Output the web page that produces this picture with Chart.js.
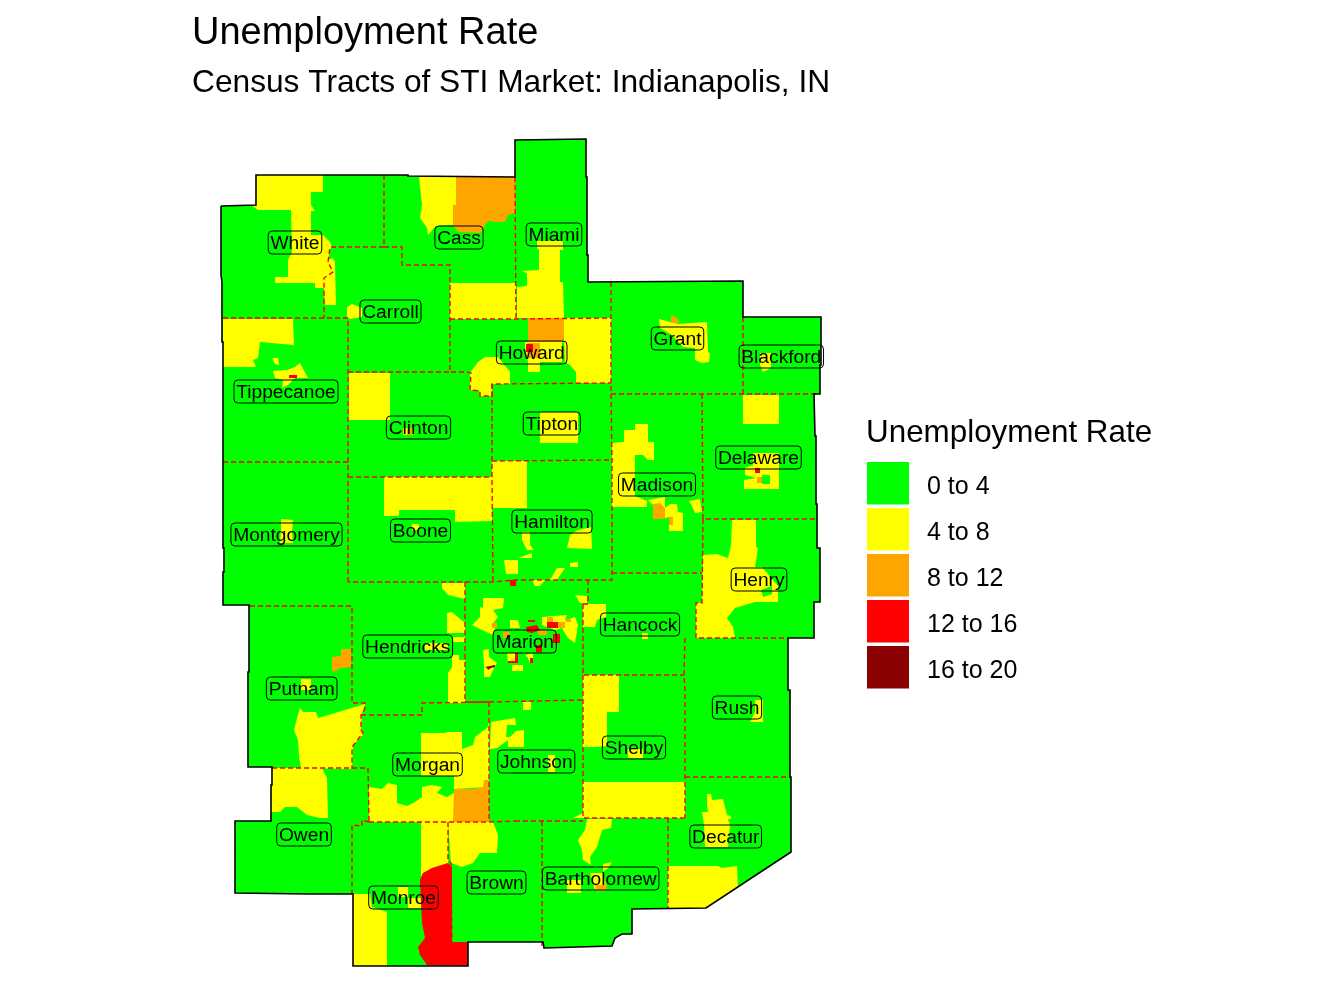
<!DOCTYPE html>
<html lang="en">
<head>
  <meta charset="UTF-8">
  <title>Unemployment Rate</title>
  <script src="https://cdn.jsdelivr.net/npm/chart.js"></script>
  <style>
    body { margin: 0; background: #fff; }
    canvas { display: block; }
  </style>
</head>
<body>
  <canvas id="mapChart" width="1344" height="1008"></canvas>
  <script>
    const classLabels = ["0 to 4", "4 to 8", "8 to 12", "12 to 16", "16 to 20"];
    const classColors = ["#00ff00", "#ffff00", "#ffa500", "#ff0000", "#8b0000"];

    const countyNames = ["White", "Cass", "Miami", "Carroll", "Howard", "Grant", "Blackford", "Tippecanoe", "Clinton", "Tipton", "Delaware", "Madison", "Montgomery", "Boone", "Hamilton", "Henry", "Hancock", "Marion", "Hendricks", "Putnam", "Rush", "Morgan", "Johnson", "Shelby", "Owen", "Decatur", "Monroe", "Brown", "Bartholomew"];
    const countyX = [295, 459, 554, 390.5, 531.7, 677.5, 781.3, 286, 418.5, 551.8, 758.5, 657, 286.5, 420.5, 552, 759, 640, 524.7, 407.7, 301.7, 737, 427.5, 536.3, 634, 304, 725.7, 403.5, 496.5, 600.7];
    const countyY = [242, 237, 234, 311, 352, 338, 356, 391, 427, 423, 457, 484, 534, 530, 521, 579, 624, 641, 646, 688, 707, 764, 761, 747, 834, 836, 897, 882, 878];

    // outer edge of the market, projected map units
    const outline = [[221,206],[256,205],[256,175],[408,175],[408,176],[515,177],[515,140],[586,139],[586,177],[587,177],[587,255],[588,255],[588,282],[743,281],[743,317],[821,317],[821,365],[820,365],[820,394],[814,394],[815,436],[816,436],[816,504],[817,504],[817,548],[820,548],[820,602],[814,602],[814,638],[788,638],[788,690],[790,690],[790,777],[791,777],[791,852],[706,908],[632,909],[632,934],[622,934],[615,938],[612,946],[544,948],[543,942],[468,942],[468,966],[353,966],[353,935],[353,894],[308,894],[235,893],[235,821],[271,821],[271,785],[272,785],[272,767],[248,767],[248,672],[249,672],[249,605],[223,605],[223,572],[224,572],[224,548],[223,548],[223,342],[222,342],[222,282],[221,275],[221,206]];

    const countyLines = [
      [[384,175],[384,247],[330,247],[328,262],[333,272],[324,278],[324,318]],
      [[384,247],[402,247],[402,265],[450,265],[450,372],[467,372],[471,373],[470,390],[480,391],[480,396],[492,396],[492,384],[611,383]],
      [[223,318],[348,318],[348,582]],
      [[348,372],[450,372]],
      [[223,462],[348,462]],
      [[348,477],[492,477]],
      [[492,384],[492,477],[493,582]],
      [[492,461],[612,460]],
      [[611,282],[611,394],[612,460],[612,580],[515,580],[493,582],[348,582]],
      [[612,573],[702,573]],
      [[611,394],[743,394],[819,394]],
      [[743,317],[743,394]],
      [[702,394],[703,519],[816,519]],
      [[703,519],[702,603],[696,603],[696,638],[788,638]],
      [[685,638],[684,675],[685,690],[685,818]],
      [[583,604],[583,675],[684,675]],
      [[588,580],[588,604],[583,604]],
      [[583,675],[583,818],[685,818]],
      [[685,777],[790,777]],
      [[668,818],[668,908]],
      [[515,821],[583,821]],
      [[542,821],[542,947]],
      [[465,582],[465,702],[489,702],[583,700]],
      [[250,606],[352,606],[352,703],[365,703],[365,709],[361,715],[361,730],[363,733],[352,747],[352,769]],
      [[272,768],[368,768],[369,822]],
      [[361,715],[422,715],[422,703],[489,702]],
      [[489,702],[489,822]],
      [[369,822],[362,820],[362,826],[352,825],[352,894]],
      [[369,822],[489,822],[515,821]],
      [[448,822],[448,860],[451,863],[452,942]],
      [[450,319],[515,319],[611,318]],
      [[515,177],[516,319]]
    ];

    const tracts4to8 = [
      [[256,175],[323,175],[323,192],[311,192],[311,205],[315,211],[311,211],[311,235],[323,235],[330,242],[332,247],[330,250],[328,260],[333,258],[335,262],[336,305],[325,305],[324,288],[315,288],[315,283],[275,283],[275,277],[288,277],[288,260],[292,252],[291,210],[258,210],[252,206],[256,206]],
      [[347,307],[352,304],[362,308],[362,317],[350,319],[347,317]],
      [[419,177],[456,177],[456,205],[453,225],[436,226],[428,235],[427,228],[420,218],[422,205]],
      [[450,283],[516,283],[516,319],[450,319]],
      [[537,241],[563,241],[563,250],[560,250],[560,282],[563,282],[564,318],[517,318],[517,287],[527,286],[527,273],[521,271],[539,270],[539,250],[537,248]],
      [[564,318],[611,318],[611,383],[576,383],[576,372],[570,365],[565,362],[564,342]],
      [[470,373],[478,362],[485,357],[498,357],[510,372],[510,384],[492,384],[492,396],[480,396],[479,390],[470,390]],
      [[525,342],[562,342],[562,362],[540,362],[540,372],[528,372],[528,362],[525,350]],
      [[223,319],[293,319],[294,345],[260,342],[258,358],[253,360],[256,367],[223,367]],
      [[272,358],[278,358],[279,365],[275,364]],
      [[273,371],[287,370],[295,367],[300,363],[308,378],[295,378],[288,385],[282,388],[283,380],[275,378]],
      [[349,373],[390,373],[390,420],[349,420]],
      [[403,428],[413,428],[413,435],[403,435]],
      [[384,477],[492,477],[492,521],[455,522],[455,510],[399,510],[399,516],[384,516]],
      [[412,524],[419,524],[419,530],[412,530]],
      [[492,461],[527,461],[527,508],[492,508]],
      [[504,560],[518,560],[518,574],[506,574]],
      [[522,532],[530,532],[530,545],[534,550],[527,550],[522,540]],
      [[518,558],[532,553],[532,558]],
      [[515,560],[518,560],[518,573],[515,573]],
      [[550,580],[557,568],[565,568],[557,580]],
      [[570,563],[578,562],[578,567],[570,567]],
      [[567,548],[570,535],[578,530],[591,527],[592,549]],
      [[532,580],[545,580],[540,586],[535,586]],
      [[659,319],[670,322],[678,324],[692,323],[707,322],[708,352],[710,353],[709,362],[702,363],[695,360],[695,348],[683,347],[672,335],[660,328]],
      [[760,353],[771,353],[771,368],[763,372],[760,365]],
      [[743,395],[779,395],[779,424],[743,424]],
      [[753,453],[779,453],[779,489],[744,489],[744,480],[756,478],[745,475],[745,468],[753,465]],
      [[624,430],[635,430],[635,424],[648,424],[648,442],[654,442],[654,460],[648,460],[643,455],[635,455],[635,496],[647,501],[647,507],[612,507],[612,443],[624,442]],
      [[648,500],[665,497],[665,508],[670,504],[677,504],[678,512],[683,513],[683,531],[669,531],[669,517],[665,518],[653,518],[653,505]],
      [[689,501],[700,499],[702,512],[695,513],[692,506]],
      [[732,520],[756,520],[756,547],[758,548],[755,567],[762,567],[778,586],[778,602],[755,602],[735,608],[727,618],[733,627],[735,638],[696,638],[696,603],[702,603],[703,555],[717,554],[728,558],[731,545]],
      [[583,604],[606,604],[606,617],[597,620],[595,627],[583,627]],
      [[642,633],[648,633],[648,639],[642,639]],
      [[483,598],[504,598],[503,608],[493,610],[498,617],[492,625],[495,628],[493,635],[482,630],[472,625],[480,617],[480,607],[483,608]],
      [[483,650],[489,649],[489,657],[497,663],[493,670],[490,677],[484,677],[484,665]],
      [[512,665],[523,665],[523,671],[512,671]],
      [[507,653],[518,653],[518,663],[508,663]],
      [[525,655],[533,653],[533,663],[530,663],[528,658]],
      [[510,620],[518,620],[520,628],[510,628]],
      [[542,617],[567,615],[562,628],[555,630],[542,625]],
      [[560,622],[575,617],[578,625],[575,643],[568,638],[563,630]],
      [[575,595],[587,596],[587,603],[580,603]],
      [[447,613],[452,612],[465,623],[465,633],[447,633],[447,625]],
      [[453,637],[465,637],[465,642],[453,642]],
      [[442,583],[465,583],[465,599],[448,595],[442,588]],
      [[452,655],[459,655],[459,660],[465,660],[465,703],[448,703],[448,673],[452,667]],
      [[425,643],[448,643],[448,650],[425,650]],
      [[281,519],[293,520],[292,533],[293,543],[280,543],[281,530]],
      [[301,679],[311,679],[311,690],[301,690]],
      [[300,708],[303,712],[316,712],[318,718],[335,713],[365,704],[362,713],[361,730],[363,735],[353,745],[352,769],[301,768],[299,757],[298,740],[294,730],[297,718]],
      [[272,768],[322,768],[327,778],[328,818],[320,818],[307,815],[297,807],[285,807],[280,812],[271,812]],
      [[421,733],[445,733],[447,732],[462,732],[462,749],[473,745],[475,737],[488,727],[489,718],[489,787],[454,789],[454,776],[421,776]],
      [[369,787],[382,789],[388,783],[397,785],[397,803],[407,806],[415,802],[422,797],[422,787],[432,785],[442,787],[437,793],[447,797],[454,793],[454,789],[454,822],[369,822]],
      [[491,722],[515,718],[516,725],[507,725],[506,737],[510,737],[516,731],[524,730],[524,747],[508,747],[508,740],[497,748],[490,749]],
      [[523,702],[531,702],[531,710],[523,710]],
      [[548,755],[555,755],[555,772],[548,772]],
      [[421,822],[448,822],[448,863],[423,873],[421,877]],
      [[448,822],[493,822],[498,835],[497,853],[480,853],[473,863],[462,867],[451,863]],
      [[353,894],[370,894],[372,907],[387,912],[387,966],[353,966]],
      [[398,887],[408,887],[408,897],[398,897]],
      [[408,898],[421,898],[421,908],[408,908]],
      [[583,675],[619,675],[619,712],[607,712],[607,746],[595,747],[583,747]],
      [[628,749],[643,749],[643,758],[628,758]],
      [[583,782],[685,782],[685,818],[583,818]],
      [[573,818],[583,813],[583,818]],
      [[587,819],[612,819],[611,828],[602,830],[597,847],[590,857],[591,865],[583,860],[582,850],[578,840],[585,830]],
      [[603,864],[612,862],[608,868],[603,872]],
      [[567,880],[581,880],[581,893],[567,893]],
      [[590,873],[603,873],[607,890],[595,890]],
      [[707,794],[711,794],[712,800],[723,799],[727,815],[731,816],[731,819],[728,819],[730,825],[728,847],[705,847],[704,825],[702,812],[708,812],[707,805]],
      [[668,866],[718,866],[722,868],[737,866],[738,887],[706,908],[668,908]],
      [[755,700],[763,700],[763,722],[750,722],[755,712]],
      [[540,412],[578,412],[578,443],[540,443]]
    ];

    const tracts8to12 = [
      [[456,177],[515,177],[515,213],[508,215],[505,222],[495,222],[488,221],[484,227],[481,233],[458,232],[453,225],[453,205],[456,205]],
      [[528,318],[564,318],[564,342],[528,342]],
      [[527,343],[540,343],[540,358],[527,358]],
      [[671,316],[674,316],[679,320],[679,323],[671,323]],
      [[407,428],[412,428],[412,435],[407,435]],
      [[757,477],[763,477],[763,483],[757,483]],
      [[653,504],[660,503],[665,508],[665,519],[653,519]],
      [[669,517],[673,517],[673,525],[669,525]],
      [[547,617],[553,617],[553,622],[547,622]],
      [[492,623],[497,623],[497,628],[492,628]],
      [[558,622],[565,622],[565,628],[558,628]],
      [[566,619],[571,619],[571,622],[566,622]],
      [[538,630],[547,630],[547,635],[538,635]],
      [[503,632],[510,632],[510,638],[503,638]],
      [[341,649],[351,649],[351,667],[340,668],[334,672],[332,670],[332,657],[341,656]],
      [[454,789],[473,789],[483,787],[484,780],[489,780],[489,822],[453,822]],
      [[595,885],[607,885],[607,890],[597,892]]
    ];

    const tracts12to16 = [
      [[526,344],[533,344],[533,352],[526,352]],
      [[289,375],[297,375],[297,378],[289,378]],
      [[755,468],[760,468],[760,473],[755,473]],
      [[510,580],[516,580],[516,586],[510,586]],
      [[547,622],[558,622],[558,628],[547,628]],
      [[528,620],[535,620],[535,622],[528,622]],
      [[526,627],[537,625],[540,630],[532,633],[527,632]],
      [[536,645],[542,645],[542,652],[536,652]],
      [[553,634],[560,634],[560,643],[553,643]],
      [[530,658],[533,658],[533,663],[530,663]],
      [[515,653],[518,653],[518,663],[508,663],[508,661],[515,661]],
      [[423,873],[432,868],[448,863],[452,867],[452,942],[468,942],[468,966],[427,965],[420,955],[418,947],[425,938],[422,923],[420,880]]
    ];

    const tracts16to20 = [
      [[485,667],[495,665],[495,667],[491,668],[488,670],[487,668]]
    ];

    // low-rate tracts sitting inside the higher-rate clusters
    const tractsInner0to4 = [
      [[762,475],[770,475],[770,484],[762,484]],
      [[761,590],[772,586],[772,594],[763,597]]
    ];

    const toPoints = (ring) => ring.map(([x, y]) => ({ x, y }));

    const fillSet = (rings, color) => rings.map((ring) => ({
      data: toPoints(ring),
      showLine: true,
      fill: "shape",
      backgroundColor: color,
      borderWidth: 0,
      pointRadius: 0
    }));

    const lineSet = (ring, color, width, dash) => ({
      data: toPoints(ring),
      showLine: true,
      fill: false,
      borderColor: color,
      borderWidth: width,
      borderDash: dash,
      pointRadius: 0
    });

    // bottom layer first, reversed below because Chart.js paints the first dataset last
    const layers = [
      ...fillSet([outline], classColors[0]),
      ...fillSet(tracts4to8, classColors[1]),
      ...fillSet(tracts8to12, classColors[2]),
      ...fillSet(tracts12to16, classColors[3]),
      ...fillSet(tracts16to20, classColors[4]),
      ...fillSet(tractsInner0to4, classColors[0]),
      ...countyLines.map((ring) => lineSet(ring, "#ff0000", 1.4, [5, 3])),
      lineSet(outline, "#000000", 1.6, [])
    ];

    const countyLabels = {
      id: "countyLabels",
      afterDatasetsDraw(chart) {
        const { ctx, scales } = chart;
        ctx.save();
        ctx.font = "19.2px 'Liberation Sans'";
        ctx.textAlign = "center";
        ctx.textBaseline = "middle";
        ctx.strokeStyle = "#000";
        ctx.fillStyle = "#000";
        ctx.lineWidth = 1;
        countyNames.forEach((name, i) => {
          const px = scales.x.getPixelForValue(countyX[i]);
          const py = scales.y.getPixelForValue(countyY[i]);
          const w = ctx.measureText(name).width + 4.5;
          ctx.beginPath();
          ctx.roundRect(px - w / 2, py - 11, w, 23, 4);
          ctx.stroke();
          ctx.fillText(name, px, py + 2);
        });
        ctx.restore();
      }
    };

    // Chart.js legends clip a title wider than their labels, so this one is drawn by hand
    const classLegend = {
      id: "classLegend",
      afterDraw(chart) {
        const { ctx } = chart;
        ctx.save();
        ctx.textBaseline = "middle";
        ctx.fillStyle = "#000";
        ctx.font = "31.4px 'Liberation Sans'";
        ctx.fillText("Unemployment Rate", 866, 433);
        ctx.font = "25px 'Liberation Sans'";
        classLabels.forEach((label, i) => {
          const top = 462 + i * 46;
          ctx.fillStyle = classColors[i];
          ctx.fillRect(867, top, 42, 42.5);
          ctx.fillStyle = "#000";
          ctx.fillText(label, 927, top + 25.5);
        });
        ctx.restore();
      }
    };

    const chart = new Chart(document.getElementById("mapChart"), {
      type: "scatter",
      data: { datasets: layers.reverse() },
      plugins: [countyLabels, classLegend],
      options: {
        responsive: false,
        animation: false,
        devicePixelRatio: 1,
        layout: { padding: { left: 192, right: 480, top: 11, bottom: 8 } },
        scales: {
          x: { display: false, type: "linear" },
          y: { display: false, type: "linear", reverse: true }
        },
        plugins: {
          tooltip: { enabled: false },
          legend: { display: false },
          title: {
            display: true,
            text: "Unemployment Rate",
            align: "start",
            fullSize: false,
            color: "#000",
            font: { family: "'Liberation Sans'", size: 38, weight: "normal" },
            padding: { top: 0, bottom: 8 }
          },
          subtitle: {
            display: true,
            text: "Census Tracts of STI Market: Indianapolis, IN",
            align: "start",
            fullSize: false,
            color: "#000",
            font: { family: "'Liberation Sans'", size: 31.7, weight: "normal" },
            padding: { top: 0, bottom: 20 }
          }
        }
      }
    });

    // map units line up with the plot area once the layout is known
    const area = chart.chartArea;
    chart.options.scales.x.min = area.left;
    chart.options.scales.x.max = area.right;
    chart.options.scales.y.min = area.top;
    chart.options.scales.y.max = area.bottom;
    chart.update("none");
  </script>
</body>
</html>
